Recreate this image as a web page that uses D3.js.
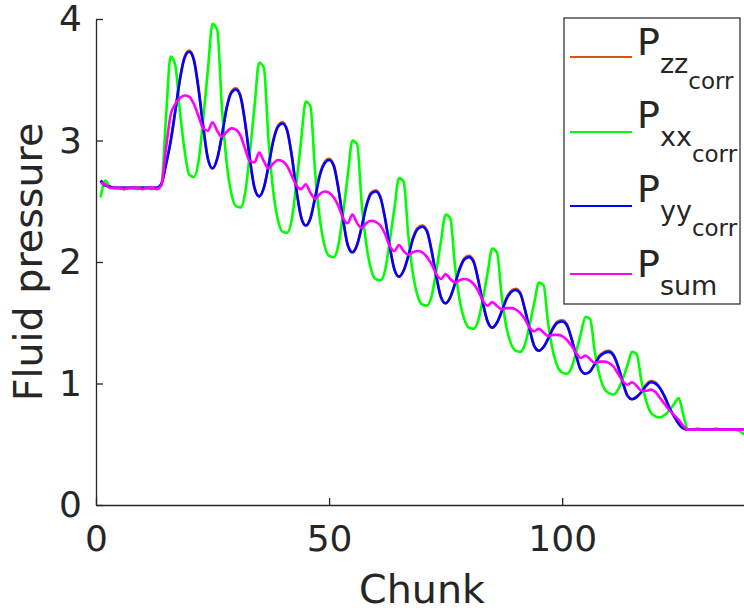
<!DOCTYPE html>
<html>
<head>
<meta charset="utf-8">
<script src="https://cdn.jsdelivr.net/npm/d3@7"></script>
<style>
  body { margin: 0; background: #fff; }
  text { font-family: "DejaVu Sans", sans-serif; fill: #262626; }
</style>
</head>
<body>
<div id="chart"></div>
<script>
// chunk index along x
var chunks = d3.range(1, 140);

// pressure series, one value per chunk
var pzz = [
  2.67, 2.63, 2.62, 2.61, 2.61, 2.61, 2.61, 2.61, 2.61, 2.61,
  2.61, 2.61, 2.61, 2.64, 2.80, 2.99, 3.24, 3.51, 3.69, 3.74,
  3.67, 3.43, 3.12, 2.85, 2.77, 2.85, 3.04, 3.27, 3.40, 3.43,
  3.37, 3.15, 2.85, 2.61, 2.54, 2.61, 2.79, 3.00, 3.12, 3.15,
  3.09, 2.88, 2.59, 2.37, 2.30, 2.36, 2.53, 2.72, 2.82, 2.85,
  2.80, 2.61, 2.35, 2.14, 2.08, 2.14, 2.29, 2.47, 2.57, 2.59,
  2.54, 2.36, 2.13, 1.94, 1.88, 1.93, 2.05, 2.20, 2.28, 2.30,
  2.26, 2.09, 1.88, 1.71, 1.66, 1.71, 1.82, 1.95, 2.03, 2.05,
  2.01, 1.85, 1.66, 1.51, 1.46, 1.50, 1.59, 1.70, 1.76, 1.78,
  1.75, 1.61, 1.45, 1.31, 1.27, 1.30, 1.37, 1.46, 1.51, 1.52,
  1.49, 1.37, 1.23, 1.11, 1.08, 1.10, 1.16, 1.23, 1.26, 1.27,
  1.24, 1.14, 1.01, 0.90, 0.87, 0.89, 0.93, 0.99, 1.02, 1.01,
  0.96, 0.89, 0.80, 0.73, 0.67, 0.63, 0.62, 0.62, 0.62, 0.62,
  0.62, 0.62, 0.62, 0.62, 0.62, 0.62, 0.62, 0.62, 0.62
];

var pxx = [
  2.53, 2.67, 2.62, 2.61, 2.61, 2.60, 2.61, 2.61, 2.60, 2.61,
  2.61, 2.60, 2.61, 2.63, 3.18, 3.69, 3.62, 3.24, 2.92, 2.72,
  2.70, 2.83, 3.18, 3.58, 3.96, 3.91, 3.28, 2.83, 2.57, 2.46,
  2.45, 2.57, 2.90, 3.28, 3.64, 3.60, 3.01, 2.59, 2.35, 2.25,
  2.24, 2.35, 2.65, 3.00, 3.32, 3.28, 2.74, 2.36, 2.14, 2.05,
  2.04, 2.14, 2.40, 2.71, 3.00, 2.97, 2.48, 2.14, 1.94, 1.86,
  1.85, 1.93, 2.17, 2.44, 2.69, 2.66, 2.22, 1.90, 1.72, 1.65,
  1.64, 1.72, 1.93, 2.17, 2.39, 2.36, 1.97, 1.69, 1.53, 1.46,
  1.45, 1.52, 1.70, 1.91, 2.11, 2.08, 1.73, 1.47, 1.33, 1.27,
  1.26, 1.32, 1.48, 1.66, 1.83, 1.81, 1.49, 1.27, 1.14, 1.09,
  1.08, 1.13, 1.26, 1.41, 1.55, 1.53, 1.26, 1.07, 0.96, 0.92,
  0.91, 0.95, 1.04, 1.15, 1.26, 1.24, 1.02, 0.86, 0.76, 0.73,
  0.72, 0.74, 0.78, 0.83, 0.88, 0.74, 0.62, 0.62, 0.63, 0.62,
  0.62, 0.62, 0.63, 0.62, 0.62, 0.62, 0.62, 0.61, 0.58
];

var pyy = [
  2.67, 2.63, 2.62, 2.61, 2.61, 2.61, 2.61, 2.61, 2.61, 2.61,
  2.61, 2.61, 2.61, 2.64, 2.80, 2.99, 3.24, 3.50, 3.68, 3.73,
  3.66, 3.42, 3.11, 2.85, 2.77, 2.85, 3.04, 3.26, 3.39, 3.42,
  3.36, 3.14, 2.85, 2.61, 2.54, 2.61, 2.79, 2.99, 3.11, 3.14,
  3.08, 2.87, 2.59, 2.37, 2.30, 2.36, 2.53, 2.71, 2.81, 2.84,
  2.79, 2.60, 2.35, 2.14, 2.08, 2.14, 2.29, 2.46, 2.56, 2.58,
  2.53, 2.36, 2.13, 1.94, 1.88, 1.93, 2.05, 2.19, 2.27, 2.29,
  2.25, 2.09, 1.88, 1.71, 1.66, 1.71, 1.82, 1.94, 2.02, 2.04,
  2.00, 1.85, 1.66, 1.51, 1.46, 1.50, 1.59, 1.69, 1.75, 1.77,
  1.74, 1.61, 1.45, 1.31, 1.27, 1.30, 1.37, 1.45, 1.50, 1.51,
  1.48, 1.37, 1.23, 1.11, 1.08, 1.10, 1.16, 1.22, 1.25, 1.26,
  1.23, 1.14, 1.01, 0.90, 0.87, 0.89, 0.93, 0.98, 1.01, 1.00,
  0.96, 0.89, 0.80, 0.73, 0.67, 0.63, 0.62, 0.62, 0.62, 0.62,
  0.62, 0.62, 0.62, 0.62, 0.62, 0.62, 0.62, 0.62, 0.62
];

var psum = [
  2.65, 2.64, 2.61, 2.61, 2.61, 2.60, 2.61, 2.61, 2.61, 2.60,
  2.61, 2.61, 2.60, 2.63, 2.93, 3.21, 3.30, 3.35, 3.37, 3.36,
  3.30, 3.20, 3.10, 3.08, 3.15, 3.08, 3.03, 3.07, 3.10, 3.09,
  3.04, 2.93, 2.83, 2.82, 2.90, 2.83, 2.77, 2.81, 2.84, 2.83,
  2.79, 2.71, 2.63, 2.60, 2.64, 2.57, 2.52, 2.56, 2.58, 2.57,
  2.53, 2.46, 2.36, 2.32, 2.39, 2.32, 2.28, 2.32, 2.34, 2.33,
  2.30, 2.23, 2.13, 2.09, 2.14, 2.09, 2.06, 2.08, 2.09, 2.08,
  2.04, 1.98, 1.90, 1.86, 1.90, 1.86, 1.83, 1.85, 1.86, 1.85,
  1.82, 1.76, 1.68, 1.64, 1.67, 1.64, 1.61, 1.62, 1.62, 1.61,
  1.58, 1.53, 1.46, 1.43, 1.45, 1.42, 1.39, 1.40, 1.40, 1.39,
  1.36, 1.31, 1.25, 1.21, 1.23, 1.20, 1.17, 1.18, 1.18, 1.17,
  1.14, 1.08, 1.02, 0.99, 1.01, 0.98, 0.94, 0.94, 0.95, 0.93,
  0.88, 0.83, 0.78, 0.74, 0.70, 0.65, 0.62, 0.62, 0.62, 0.62,
  0.62, 0.62, 0.62, 0.62, 0.62, 0.62, 0.62, 0.62, 0.62
];

var xTicks = [0, 50, 100];
var yTicks = [0, 1, 2, 3, 4];

// legend entries: main letter, subscript, sub-subscript
var seriesNames = ["zz", "xx", "yy", "sum"];
var seriesSub2 = ["corr", "corr", "corr", ""];
var seriesColors = ["#d95319", "#00ff00", "#0000ff", "#ff00ff"];
var seriesValues = [pzz, pxx, pyy, psum];

var svgWidth = 744;
var svgHeight = 612;
var axisColor = "#262626";

var svg = d3
  .select("#chart")
  .append("svg")
  .attr("width", svgWidth)
  .attr("height", svgHeight)
  .style("display", "block");

svg.append("rect").attr("width", svgWidth).attr("height", svgHeight).attr("fill", "#fff");

// scales
var xScale = d3.scaleLinear().domain([0, 139]).range([96, 744]);
var yScale = d3.scaleLinear().domain([0, 4]).range([505, 19]);

// lines (monotone so the peaks come out rounded like the original)
var line = d3
  .line()
  .curve(d3.curveMonotoneX)
  .x(function (d) { return xScale(d[0]); })
  .y(function (d) { return yScale(d[1]); });

seriesValues.forEach(function (vals, i) {
  svg
    .append("path")
    .datum(chunks.map(function (c, j) { return [c, vals[j]]; }))
    .attr("fill", "none")
    .attr("stroke", seriesColors[i])
    .attr("stroke-width", 2.6)
    .attr("stroke-linejoin", "round")
    .attr("d", line);
});

// axes, ticks pointing inward like matlab
var bottomAxis = d3
  .axisBottom(xScale)
  .tickValues(xTicks)
  .tickFormat(d3.format("d"))
  .tickSizeInner(-7)
  .tickSizeOuter(0)
  .tickPadding(20);
var leftAxis = d3
  .axisLeft(yScale)
  .tickValues(yTicks)
  .tickFormat(d3.format("d"))
  .tickSizeInner(-7)
  .tickSizeOuter(0)
  .tickPadding(14);

var xAxis = svg.append("g").attr("transform", "translate(0, 505)").call(bottomAxis);
var yAxis = svg.append("g").attr("transform", "translate(96, 0)").call(leftAxis);

[xAxis, yAxis].forEach(function (ax) {
  ax.select(".domain").attr("stroke", axisColor).attr("stroke-width", 1.3);
  ax.selectAll(".tick line").attr("stroke", axisColor).attr("stroke-width", 1.3);
  ax.selectAll(".tick text")
    .attr("fill", axisColor)
    .style("font-family", "DejaVu Sans")
    .style("font-size", "36px");
});
xAxis.selectAll(".tick text").attr("dy", "0.71em");

// axis labels
svg
  .append("text")
  .attr("x", 422)
  .attr("y", 603)
  .attr("text-anchor", "middle")
  .style("font-size", "39.6px")
  .text("Chunk");

svg
  .append("text")
  .attr("transform", "translate(42, 262) rotate(-90)")
  .attr("text-anchor", "middle")
  .style("font-size", "39.6px")
  .text("Fluid pressure");

// legend box
var legend = svg.append("g");
legend
  .append("rect")
  .attr("x", 564)
  .attr("y", 18)
  .attr("width", 176)
  .attr("height", 286)
  .attr("fill", "#fff")
  .attr("stroke", axisColor)
  .attr("stroke-width", 1.2);

var legendLineY = [57, 132, 206, 274];
var legendTextY = [55, 128, 202, 277];

seriesNames.forEach(function (name, i) {
  legend
    .append("line")
    .attr("x1", 570)
    .attr("x2", 632)
    .attr("y1", legendLineY[i])
    .attr("y2", legendLineY[i])
    .attr("stroke", seriesColors[i])
    .attr("stroke-width", 2);

  var t = legend.append("text").attr("x", 637).attr("y", legendTextY[i]);
  t.append("tspan").style("font-size", "38px").text("P");
  t.append("tspan").style("font-size", "27px").attr("dy", 18).text(name);
  if (seriesSub2[i]) {
    t.append("tspan").style("font-size", "23px").attr("dy", 16).text(seriesSub2[i]);
  }
});
</script>
</body>
</html>
